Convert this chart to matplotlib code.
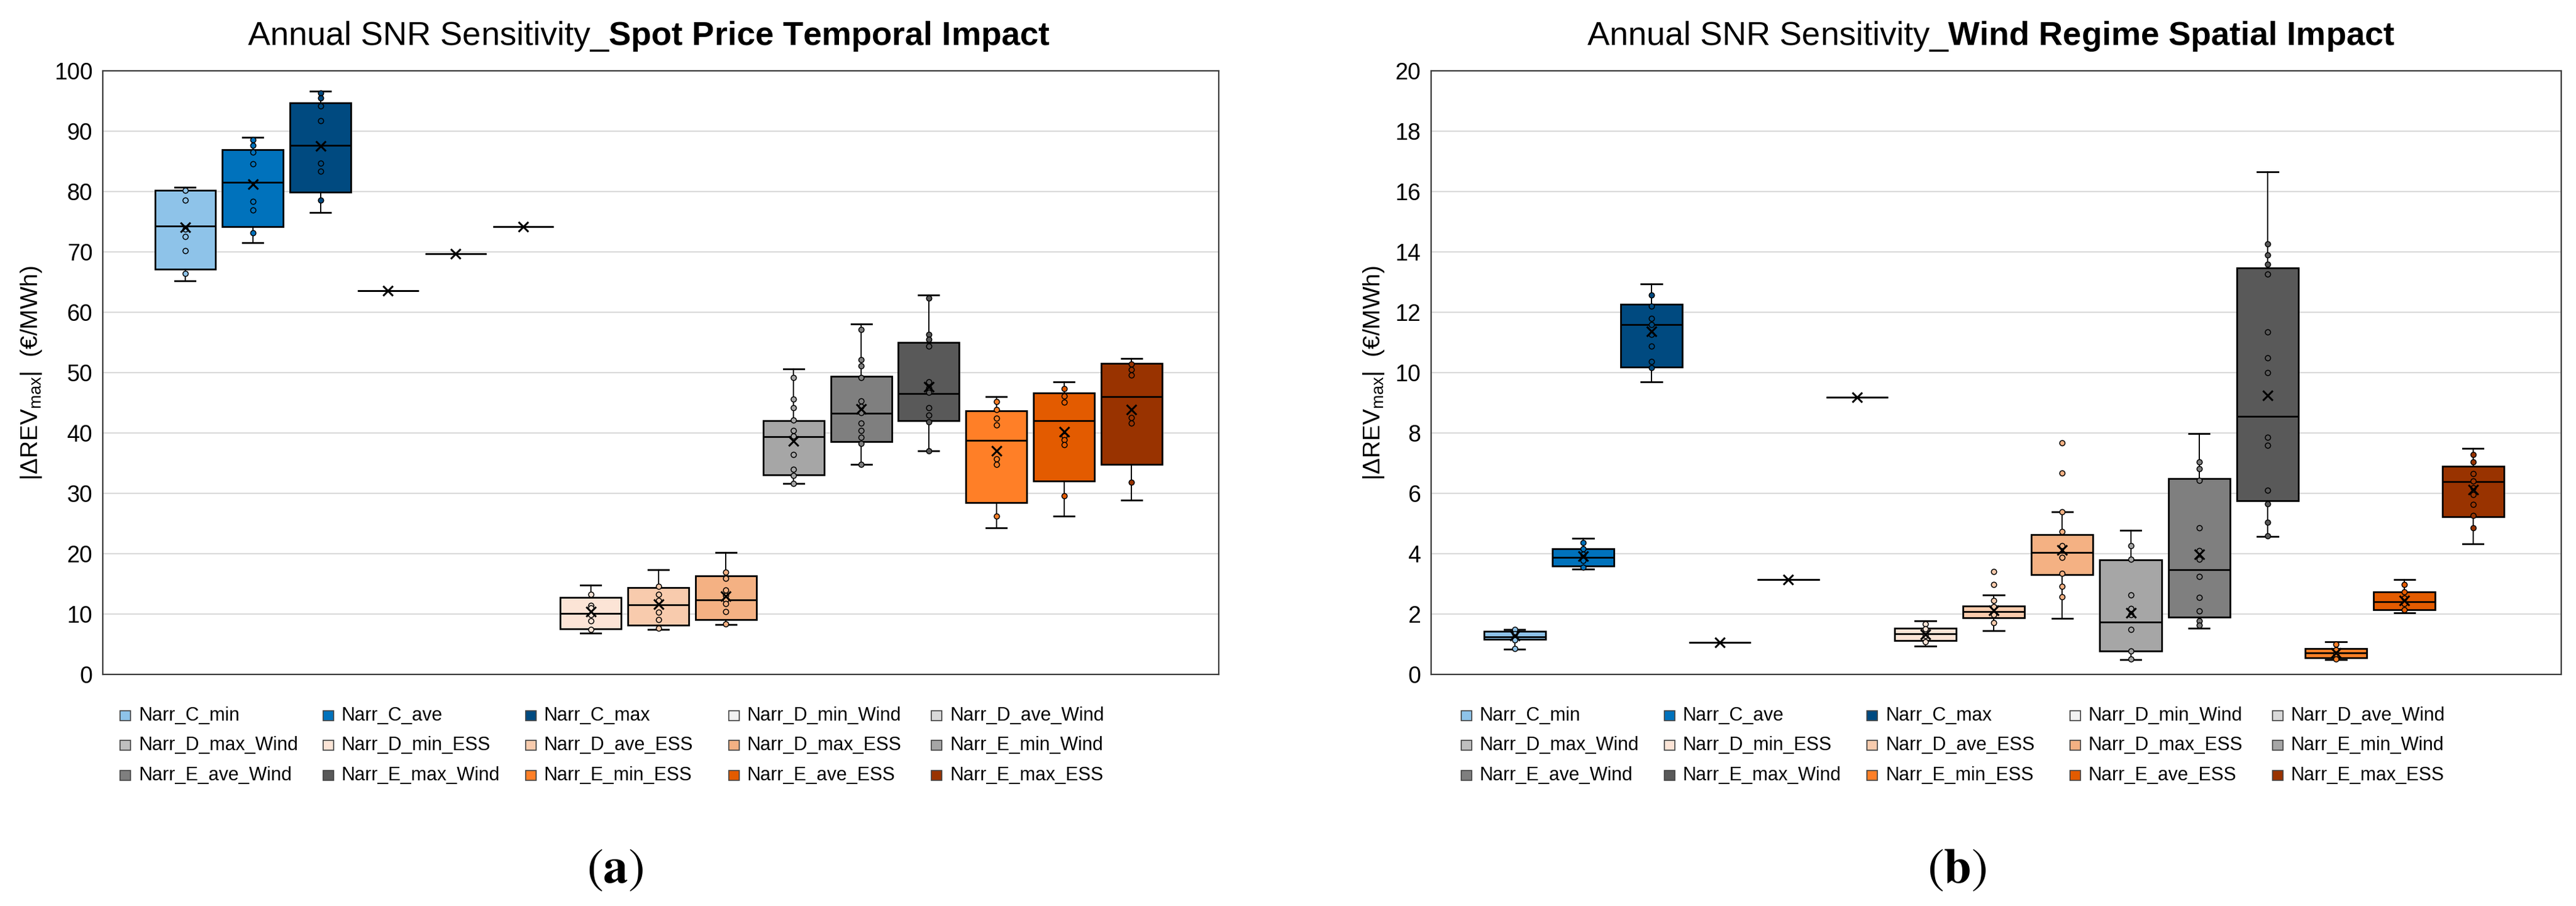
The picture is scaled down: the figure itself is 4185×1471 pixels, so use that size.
import matplotlib
matplotlib.use('Agg')
import matplotlib.pyplot as plt
from matplotlib.patches import Rectangle

plt.rcParams['font.family'] = ['Liberation Sans', 'DejaVu Sans']
plt.rcParams['mathtext.fontset'] = 'custom'
plt.rcParams['mathtext.rm'] = 'Liberation Sans'
plt.rcParams['mathtext.bf'] = 'Liberation Sans:bold'
plt.rcParams['mathtext.it'] = 'Liberation Sans:italic'

# ---------------- data ----------------
series_names = ['Narr_C_min', 'Narr_C_ave', 'Narr_C_max',
                'Narr_D_min_Wind', 'Narr_D_ave_Wind', 'Narr_D_max_Wind',
                'Narr_D_min_ESS', 'Narr_D_ave_ESS', 'Narr_D_max_ESS',
                'Narr_E_min_Wind', 'Narr_E_ave_Wind', 'Narr_E_max_Wind',
                'Narr_E_min_ESS', 'Narr_E_ave_ESS', 'Narr_E_max_ESS']
series_colors = ['#8EC3E9', '#0072BC', '#004A80',
                 '#F2F2F2', '#D9D9D9', '#BFBFBF',
                 '#FCE4D6', '#F8CBAD', '#F4B183',
                 '#A6A6A6', '#7F7F7F', '#595959',
                 '#FF7F27', '#E35B00', '#993300']

# (a) Spot Price Temporal Impact
spot_whislo = [65.2, 71.5, 76.5, 63.6, 69.7, 74.2, 6.8, 7.4, 8.3, 31.6, 34.8, 37.0, 24.3, 26.2, 28.9]
spot_q1     = [67.1, 74.2, 79.9, 63.6, 69.7, 74.2, 7.6, 8.2, 9.1, 33.1, 38.6, 42.0, 28.5, 32.0, 34.8]
spot_med    = [74.3, 81.5, 87.7, 63.6, 69.7, 74.2, 10.1, 11.5, 12.3, 39.4, 43.3, 46.5, 38.8, 42.0, 46.0]
spot_q3     = [80.2, 86.9, 94.7, 63.6, 69.7, 74.2, 12.8, 14.4, 16.3, 42.0, 49.4, 55.0, 43.7, 46.6, 51.5]
spot_whishi = [80.7, 89.0, 96.6, 63.6, 69.7, 74.2, 14.8, 17.3, 20.2, 50.6, 58.1, 62.9, 46.0, 48.5, 52.3]
spot_mean   = [74.1, 81.2, 87.5, 63.6, 69.7, 74.2, 10.4, 11.6, 13.0, 38.7, 44.0, 47.7, 37.0, 40.2, 43.9]
spot_points = [
    [80.2, 78.6, 73.8, 72.6, 70.2, 66.4],
    [88.6, 87.7, 86.5, 84.6, 78.4, 76.9, 73.2],
    [96.3, 95.5, 94.2, 91.7, 84.7, 83.4, 78.6],
    [], [], [],
    [13.3, 11.4, 11.0, 9.9, 8.9, 7.4],
    [14.6, 13.3, 12.2, 10.3, 9.1, 7.7],
    [16.9, 15.9, 14.0, 13.1, 12.3, 11.7, 10.4, 8.4],
    [49.2, 45.6, 44.2, 42.1, 40.4, 39.5, 36.4, 34.0, 33.0, 31.6],
    [57.1, 52.1, 51.1, 49.2, 45.3, 44.4, 43.4, 41.6, 40.4, 39.3, 38.3, 34.8],
    [62.3, 56.3, 55.5, 54.4, 48.5, 47.5, 46.7, 44.2, 43.0, 41.8, 37.0],
    [45.2, 43.9, 42.4, 41.3, 35.7, 34.8, 26.2],
    [47.3, 46.1, 45.1, 39.5, 38.9, 38.1, 29.6],
    [51.4, 50.5, 49.6, 42.6, 41.6, 31.8],
]

# (b) Wind Regime Spatial Impact
wind_whislo = [0.83, 3.49, 9.69, 1.06, 3.15, 9.19, 0.94, 1.44, 1.86, 0.50, 1.54, 4.57, 0.50, 2.05, 4.32]
wind_q1     = [1.17, 3.59, 10.19, 1.06, 3.15, 9.19, 1.13, 1.88, 3.30, 0.77, 1.90, 5.76, 0.56, 2.15, 5.22]
wind_med    = [1.25, 3.88, 11.59, 1.06, 3.15, 9.19, 1.34, 2.09, 4.05, 1.73, 3.47, 8.56, 0.71, 2.40, 6.39]
wind_q3     = [1.42, 4.17, 12.27, 1.06, 3.15, 9.19, 1.54, 2.26, 4.64, 3.80, 6.49, 13.47, 0.86, 2.74, 6.89]
wind_whishi = [1.50, 4.51, 12.94, 1.06, 3.15, 9.19, 1.77, 2.63, 5.39, 4.78, 7.98, 16.66, 1.09, 3.15, 7.49]
wind_mean   = [1.29, 3.92, 11.36, 1.06, 3.15, 9.19, 1.32, 2.13, 4.13, 2.05, 3.97, 9.25, 0.71, 2.44, 6.12]
wind_points = [
    [1.48, 1.34, 1.15, 0.86],
    [4.36, 4.17, 3.97, 3.78, 3.55],
    [12.57, 12.2, 11.8, 11.6, 11.27, 10.88, 10.36, 10.17],
    [], [], [],
    [1.67, 1.52, 1.29, 1.09],
    [3.40, 2.98, 2.44, 2.25, 1.98, 1.71],
    [7.68, 6.68, 5.39, 4.74, 4.26, 3.88, 3.34, 2.92, 2.57],
    [4.26, 3.82, 2.63, 2.19, 1.98, 1.48, 0.77, 0.52],
    [7.04, 6.81, 6.43, 4.86, 4.11, 3.82, 3.24, 2.55, 2.11, 1.77, 1.63],
    [14.26, 13.9, 13.59, 13.26, 11.34, 10.5, 10.0, 7.85, 7.6, 6.1, 5.66, 5.05, 4.59],
    [1.0, 0.81, 0.67, 0.52],
    [2.98, 2.73, 2.53, 2.34, 2.15],
    [7.29, 7.04, 6.66, 6.41, 6.18, 5.95, 5.64, 5.26, 4.86],
]

spot_yticks = list(range(0, 101, 10))
wind_yticks = list(range(0, 21, 2))

title_a = r"Annual SNR Sensitivity_$\mathbf{Spot\ Price\ Temporal\ Impact}$"
title_b = r"Annual SNR Sensitivity_$\mathbf{Wind\ Regime\ Spatial\ Impact}$"
ylabel_txt = r"|ΔREV$_{\mathregular{max}}$|  (€/MWh)"

# ---------------- figure ----------------
W, H = 4185, 1471
fig = plt.figure(figsize=(W / 100, H / 100), dpi=100)
fig.patch.set_facecolor('white')


def fx(px):
    return px / W


def fy(py):
    return 1 - py / H


def draw_panel(left, right, top, bottom, whislo, q1, med, q3, whishi, mean, points,
               yticks, label_x, title, title_x, tag, tag_x, leg_x0):
    ax = fig.add_axes([fx(left), fy(bottom), (right - left) / W, (bottom - top) / H])
    ax.set_axisbelow(True)
    n = len(series_names)
    pos = list(range(n))
    stats = [dict(whislo=whislo[i], q1=q1[i], med=med[i], q3=q3[i], whishi=whishi[i],
                  mean=mean[i], fliers=[], label=series_names[i]) for i in range(n)]
    bp = ax.bxp(stats, positions=pos, widths=0.9, capwidths=0.3, patch_artist=True,
                showmeans=True, showfliers=False,
                boxprops=dict(edgecolor='black', linewidth=2.0),
                medianprops=dict(color='black', linewidth=2.0),
                whiskerprops=dict(color='black', linewidth=1.4),
                capprops=dict(color='black', linewidth=2.0),
                meanprops=dict(marker='x', markeredgecolor='black', markersize=12,
                               markeredgewidth=2.2))
    for patch, c in zip(bp['boxes'], series_colors):
        patch.set_facecolor(c)
    for m in bp['means']:
        m.set_zorder(6)
    for i, pts in enumerate(points):
        if pts:
            ax.scatter([pos[i]] * len(pts), pts, s=38, facecolor=series_colors[i],
                       edgecolor='black', linewidth=1.1, zorder=5)
    ax.set_xlim(-1.22, n - 1 + 1.29)
    ax.set_ylim(yticks[0], yticks[-1])
    ax.set_yticks(yticks)
    ax.set_xticks([])
    ax.yaxis.grid(True, color='#DADADA', linewidth=1.6)
    ax.tick_params(axis='y', length=0, pad=12, labelsize=27)
    for s in ax.spines.values():
        s.set_color('#3A3A3A')
        s.set_linewidth(1.6)
    ax.set_ylabel(ylabel_txt, fontsize=28)
    ax.yaxis.set_label_coords(label_x, 0.5)

    fig.text(fx(title_x), fy(73), title, fontsize=39, ha='center', va='baseline')
    fig.text(fx(tag_x), fy(1412), tag, fontsize=58, ha='center', va='center',
             math_fontfamily='stix')

    # legend laid out row-wise in 5 uniform columns like the original
    col_dx = 329.5
    row_y = [1162, 1210, 1259]
    for i, (name, c) in enumerate(zip(series_names, series_colors)):
        r, cidx = divmod(i, 5)
        x0 = leg_x0 + cidx * col_dx
        yc = row_y[r]
        fig.patches.append(Rectangle((fx(x0), fy(yc + 8)), 17 / W, 16 / H,
                                     transform=fig.transFigure, facecolor=c,
                                     edgecolor='#404040', linewidth=1.2))
        fig.text(fx(x0 + 30), fy(yc), name, fontsize=22, ha='left', va='center')
    return ax


draw_panel(167, 1980, 115, 1095, spot_whislo, spot_q1, spot_med, spot_q3, spot_whishi,
           spot_mean, spot_points, spot_yticks, -0.053, title_a, 1054,
           r"$(\mathbf{a})$", 999, 195)
draw_panel(2325, 4161, 115, 1095, wind_whislo, wind_q1, wind_med, wind_q3, wind_whishi,
           wind_mean, wind_points, wind_yticks, -0.040, title_b, 3234,
           r"$(\mathbf{b})$", 3179, 2374)

fig.savefig('out.png', dpi=100, facecolor='white')
